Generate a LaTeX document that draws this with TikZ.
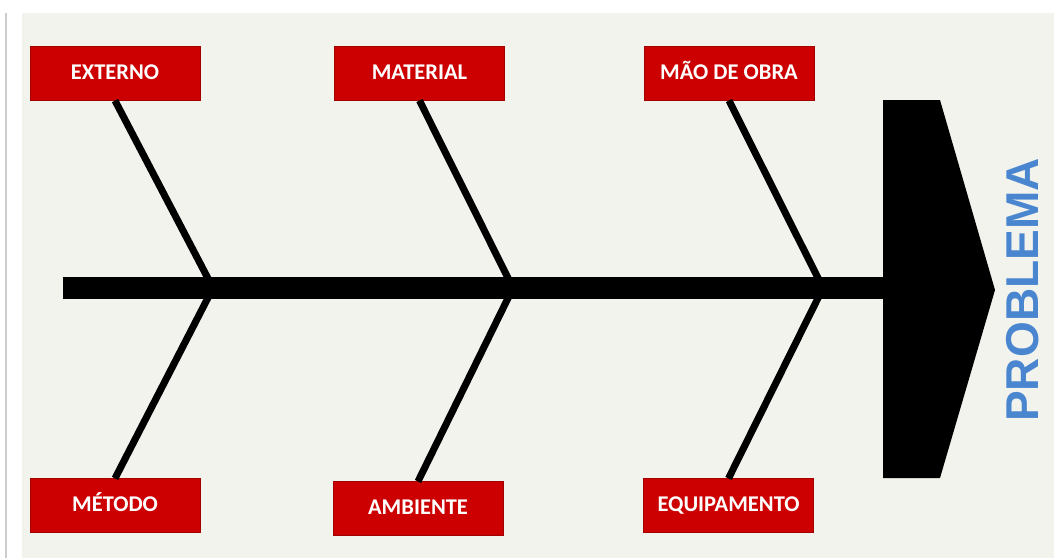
\documentclass[tikz,border=0pt]{standalone}
\usepackage{fontspec}
\setmainfont{Carlito}
\newfontfamily\headfont{Liberation Sans}
\usepackage{tikz}
\usetikzlibrary{positioning}
\definecolor{boxred}{RGB}{204,0,0}
\definecolor{boxedge}{RGB}{160,0,0}
\definecolor{paper}{RGB}{243,243,237}
\definecolor{probblue}{RGB}{74,134,208}
\tikzset{%
  causa/.style={
    rectangle,
    fill=boxred,
    draw=boxedge,
    minimum width=3.4cm,
    minimum height=1.07cm,
    text height=0.64em,
    text depth=0pt,
    text=white,
    font=\bfseries\fontsize{12.8}{14}\selectfont
  },
  bone/.style={
    line width=4pt,
    black
  },
  spine/.style={
    line width=12.5pt,
    black
  },
}

\begin{document}
\begin{tikzpicture}
\useasboundingbox (0,0) rectangle (21.08,11.16);
\fill[paper] (0.44,0) rectangle (21.08,10.9);
\draw[gray!40, line width=0.6pt] (0.12,0) -- (0.12,10.9);
% causes
\node[causa] (ext) at (2.3,9.69) {EXTERNO};
\node[causa] (mat) at (8.39,9.69) {MATERIAL};
\node[causa] (mao) at (14.58,9.69) {MÃO DE OBRA};
\node[causa] (met) at (2.3,1.05) {MÉTODO};
\node[causa] (amb) at (8.36,0.99) {AMBIENTE};
\node[causa] (equ) at (14.57,1.05) {EQUIPAMENTO};
% spine and head
\coordinate (tail) at (1.26,5.4);
\coordinate (neck) at (17.8,5.4);
\coordinate (j1) at (4.26,5.4);
\coordinate (j2) at (10.26,5.4);
\coordinate (j3) at (16.46,5.4);
\foreach \up/\lo/\j in {ext/met/j1, mat/amb/j2, mao/equ/j3}
    {\draw[bone] (\up.south) -- (\j);
     \draw[bone] (\j) -- (\lo.north);}
\draw[spine] (tail) -- (neck);
\fill[black] (17.66,9.16) -- (18.8,9.16) -- (19.9,5.36) -- (18.8,1.6) -- (17.66,1.6) -- cycle;
\node[rotate=90, text=probblue, font=\headfont\bfseries\fontsize{26.2}{30}\selectfont] (prob) at (20.46,5.36) {PROBLEMA};
\end{tikzpicture}
\end{document}
